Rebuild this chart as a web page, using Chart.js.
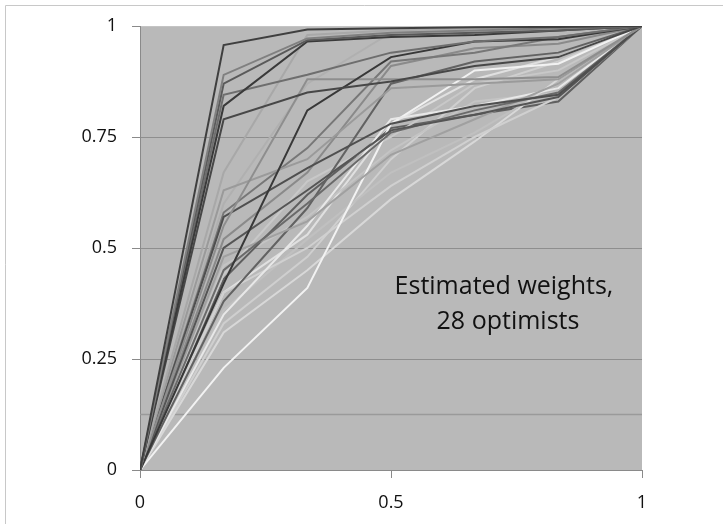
<!DOCTYPE html>
<html>
<head>
<meta charset="utf-8">
<script src="https://cdn.jsdelivr.net/npm/chart.js@4/dist/chart.umd.min.js"></script>
<style>
  html, body { margin: 0; padding: 0; background: #fff; }
  #wrap { position: relative; width: 723px; height: 524px; }
</style>
</head>
<body>
<div id="wrap"><canvas id="weightsChart"></canvas></div>
<script>
// x positions of the seven weight points
const xs = [0, 1/6, 2/6, 3/6, 4/6, 5/6, 1];
const yTicks = [0, 0.25, 0.5, 0.75, 1];
const xTicks = [0, 0.5, 1];

// estimated weights per respondent (inner points only, ends are 0 and 1)
const w01 = [0.957, 0.992, 0.995, 0.997, 0.998];
const w02 = [0.89, 0.972, 0.985, 0.99, 0.995];
const w03 = [0.87, 0.968, 0.98, 0.985, 0.99];
const w04 = [0.82, 0.965, 0.975, 0.98, 0.99];
const w05 = [0.845, 0.89, 0.94, 0.965, 0.975];
const w06 = [0.79, 0.85, 0.875, 0.91, 0.93];
const w07 = [0.67, 0.98, 0.99, 0.995, 0.997];
const w08 = [0.42, 0.81, 0.93, 0.965, 0.97];
const w09 = [0.55, 0.88, 0.88, 0.88, 0.885];
const w10 = [0.63, 0.70, 0.86, 0.87, 0.88];
const w11 = [0.57, 0.68, 0.78, 0.82, 0.845];
const w12 = [0.58, 0.725, 0.92, 0.94, 0.975];
const w13 = [0.50, 0.63, 0.765, 0.80, 0.84];
const w14 = [0.45, 0.60, 0.76, 0.81, 0.85];
const w15 = [0.48, 0.56, 0.71, 0.79, 0.87];
const w16 = [0.38, 0.59, 0.87, 0.92, 0.94];
const w17 = [0.35, 0.55, 0.79, 0.82, 0.86];
const w18 = [0.23, 0.41, 0.78, 0.90, 0.915];
const w19 = [0.44, 0.65, 0.75, 0.87, 0.90];
const w20 = [0.40, 0.50, 0.64, 0.75, 0.84];
const w21 = [0.31, 0.45, 0.61, 0.74, 0.88];
const w22 = [0.36, 0.52, 0.67, 0.76, 0.87];
const w23 = [0.43, 0.62, 0.77, 0.80, 0.83];
const w24 = [0.52, 0.67, 0.91, 0.95, 0.96];
const w25 = [0.60, 0.87, 0.985, 0.99, 0.995];
const w26 = [0.46, 0.57, 0.72, 0.83, 0.85];
const w27 = [0.40, 0.53, 0.78, 0.88, 0.93];
const w28 = [0.33, 0.48, 0.70, 0.86, 0.92];

const series = [w01, w02, w03, w04, w05, w06, w07, w08, w09, w10, w11, w12, w13, w14,
                w15, w16, w17, w18, w19, w20, w21, w22, w23, w24, w25, w26, w27, w28];
const shades = ['#3f3f3f', '#808080', '#5a5a5a', '#3a3a3a', '#6e6e6e', '#474747', '#a8a8a8',
                '#383838', '#8e8e8e', '#9a9a9a', '#4f4f4f', '#777777', '#555555', '#6a6a6a',
                '#a0a0a0', '#626262', '#e8e8e8', '#f2f2f2', '#c8c8c8', '#d0d0d0', '#d8d8d8',
                '#c0c0c0', '#5f5f5f', '#8a8a8a', '#b0b0b0', '#c4c4c4', '#e0e0e0', '#cfcfcf'];

// reference level line near the bottom
const refLevel = [0.125, 0.125];
const refX = [0, 1];

const datasets = series.map((s, i) => ({
  data: [0, ...s, 1].map((y, k) => ({ x: xs[k], y })),
  borderColor: shades[i],
  borderWidth: 2,
  pointRadius: 0,
  tension: 0
}));
datasets.push({
  data: refLevel.map((y, k) => ({ x: refX[k], y })),
  borderColor: '#9a9a9a',
  borderWidth: 1.5,
  pointRadius: 0
});

const labelFont = { family: '"Open Sans", sans-serif', size: 18 };

// grey plot area + outer frame
const plotBg = {
  id: 'plotBg',
  beforeDraw(chart) {
    const { ctx, chartArea: a } = chart;
    ctx.save();
    ctx.fillStyle = '#b9b9b9';
    ctx.fillRect(a.left, a.top, a.right - a.left, a.bottom - a.top);
    ctx.strokeStyle = '#c8c8c8';
    ctx.lineWidth = 1;
    ctx.beginPath();
    ctx.moveTo(5.5, chart.height);
    ctx.lineTo(5.5, 5.5);
    ctx.lineTo(chart.width, 5.5);
    ctx.stroke();
    ctx.restore();
  }
};

// caption inside the plot
const caption = {
  id: 'caption',
  afterDraw(chart) {
    const { ctx, scales } = chart;
    ctx.save();
    ctx.fillStyle = '#111';
    ctx.font = '25px "Open Sans", sans-serif';
    ctx.textAlign = 'center';
    ctx.textBaseline = 'middle';
    ctx.fillText('Estimated weights,', scales.x.getPixelForValue(0.725), scales.y.getPixelForValue(0.412));
    ctx.fillText('28 optimists', scales.x.getPixelForValue(0.733), scales.y.getPixelForValue(0.333));
    ctx.restore();
  }
};

new Chart(document.getElementById('weightsChart'), {
  type: 'line',
  data: { datasets },
  options: {
    responsive: true,
    maintainAspectRatio: false,
    animation: false,
    layout: { padding: { top: 26, right: 81, left: 0, bottom: 0 } },
    plugins: { legend: { display: false }, tooltip: { enabled: false } },
    scales: {
      x: {
        type: 'linear',
        min: 0,
        max: 1,
        afterBuildTicks: s => { s.ticks = xTicks.map(v => ({ value: v })); },
        afterFit: s => { s.height = 54; },
        ticks: { font: labelFont, color: '#111', padding: 14, maxRotation: 0, callback: v => String(v) },
        grid: { drawOnChartArea: false, drawTicks: true, tickLength: 8, tickColor: '#8a8a8a' },
        border: { color: '#8a8a8a', width: 1 }
      },
      y: {
        min: 0,
        max: 1,
        afterBuildTicks: s => { s.ticks = yTicks.map(v => ({ value: v })); },
        afterFit: s => { s.width = 140; },
        ticks: { font: labelFont, color: '#111', padding: 15, callback: v => String(v) },
        grid: {
          color: c => (c.tick && c.tick.value === 1 ? '#c4c4c4' : '#8e8e8e'),
          lineWidth: 1,
          tickLength: 8,
          tickColor: '#8a8a8a'
        },
        border: { color: '#8a8a8a', width: 1 }
      }
    }
  },
  plugins: [plotBg, caption]
});
</script>
</body>
</html>
